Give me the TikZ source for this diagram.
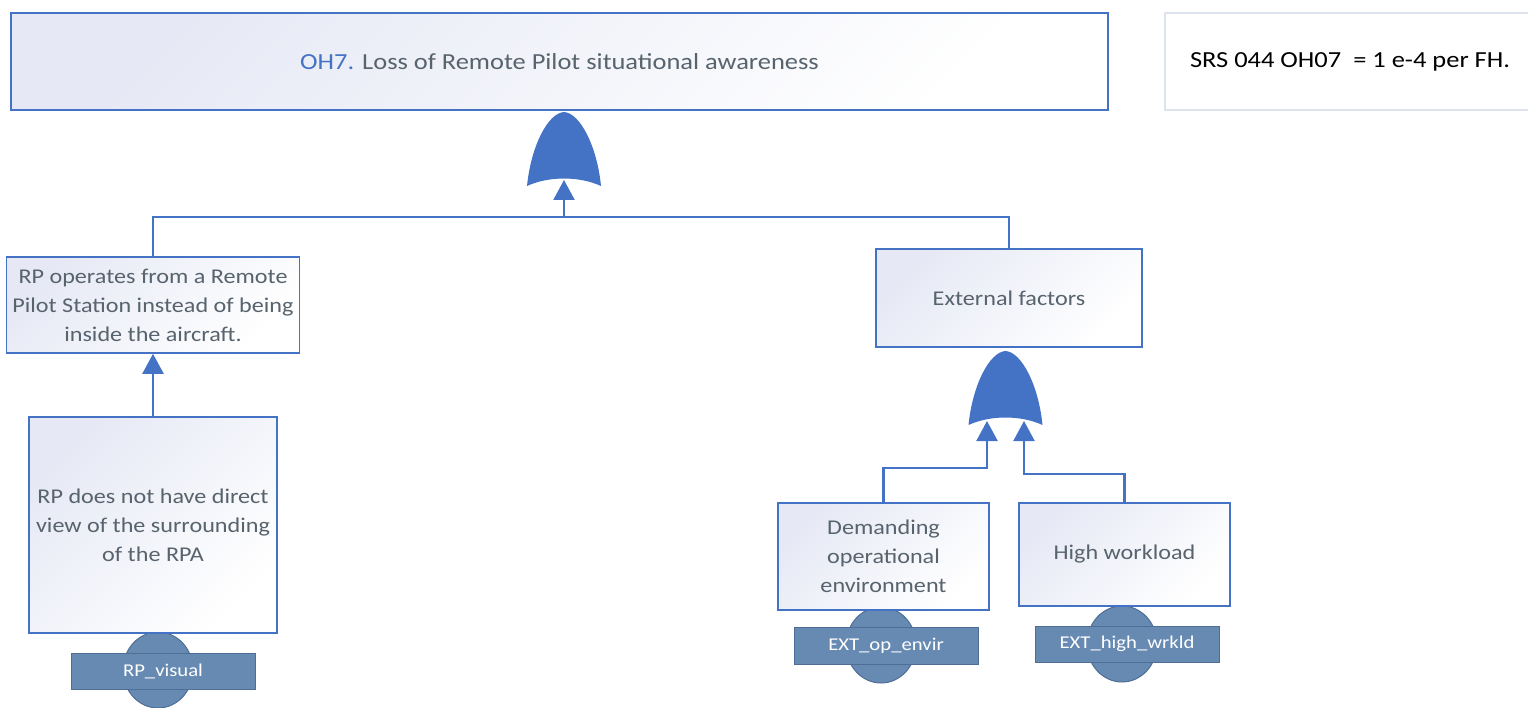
\documentclass[tikz,border=0pt]{standalone}
\usepackage{fontspec}
\setmainfont[FakeStretch=1.15]{Carlito}
\usetikzlibrary{arrows.meta,shapes.geometric}

\definecolor{ftblue}{RGB}{68,114,196}
\definecolor{fttext}{RGB}{87,99,109}
\definecolor{fttint}{RGB}{230,233,245}
\definecolor{evfill}{RGB}{103,138,178}
\definecolor{evline}{RGB}{78,110,150}
\definecolor{noteline}{RGB}{222,228,238}

\tikzset{
  event/.style={draw=ftblue, line width=1.6pt, top color=fttint, bottom color=white,
    shading angle=45, inner sep=0pt, align=center, text=fttext,
    font=\fontsize{21}{29}\selectfont},
  note/.style={draw=noteline, line width=1.2pt, fill=white, inner sep=0pt,
    text=black, font=\fontsize{23}{28}\selectfont},
  evcirc/.style={ellipse, draw=evline, line width=1pt, fill=evfill, inner sep=0pt,
    minimum width=70pt, minimum height=76pt},
  evlabel/.style={draw=evline, line width=1pt, fill=evfill, text=white, inner sep=0pt,
    font=\fontsize{18}{22}\selectfont},
  conn/.style={draw=ftblue, line width=2.2pt},
  arr/.style={-{Triangle[width=21pt,length=20pt]}},
  orgate/.pic={
    \fill[ftblue] (-37,0) .. controls (-33,-40) and (-16,-73) .. (0,-74)
      .. controls (16,-73) and (33,-40) .. (37,0)
      .. controls (15,-10) and (-15,-10) .. (-37,0) -- cycle;
  }
}

\begin{document}
\begin{tikzpicture}[x=1pt,y=-1pt]
\useasboundingbox (0,0) rectangle (1528,708);

% top event and target note
\node[event, minimum width=1097pt, minimum height=97pt, font=\fontsize{23}{28}\selectfont]
  (top) at (559.5,61.5) {\textcolor{ftblue}{OH7.} Loss of Remote Pilot situational awareness};
\node[note, minimum width=370pt, minimum height=97pt] (srs) at (1350,61.5)
  {SRS 044 OH07\ \ = 1 e-4 per FH.};

% basic event circles (behind the boxes and labels)
\node[evcirc] (c1) at (158,670) {};
\node[evcirc] (c2) at (881,645) {};
\node[evcirc] (c3) at (1122,644) {};

% intermediate and basic events
\node[event, minimum width=293pt, minimum height=96pt] (rpop) at (153,305)
  {RP operates from a Remote\\Pilot Station instead of being\\inside the aircraft.};
\node[event, minimum width=248pt, minimum height=216pt] (rpdir) at (153,525)
  {RP does not have direct\\view of the surrounding\\of the RPA};
\node[event, minimum width=266pt, minimum height=98pt] (ext) at (1009,298)
  {External factors};
\node[event, minimum width=211pt, minimum height=107pt] (dem) at (883.5,556.5)
  {Demanding\\operational\\environment};
\node[event, minimum width=211pt, minimum height=103pt] (hw) at (1124.5,554.5)
  {High workload};

% basic event labels
\node[evlabel, minimum width=184pt, minimum height=36pt] (l1) at (163,671) {RP\_visual};
\node[evlabel, minimum width=184pt, minimum height=37pt] (l2) at (886,645.5) {EXT\_op\_envir};
\node[evlabel, minimum width=184pt, minimum height=36pt] (l3) at (1127,644) {EXT\_high\_wrkld};

% OR gates
\pic at (564,186) {orgate};
\pic at (1005.5,425) {orgate};

% gate inputs and bends
\coordinate (g1in) at (564,180);
\coordinate (j1) at (564,217);
\coordinate (g2a) at (987,421);
\coordinate (g2b) at (1024,421);
\coordinate (k1) at (987,468);
\coordinate (k2) at (1024,474);

% connectors
\draw[conn] (rpop.north) |- (j1);
\draw[conn] (ext.north) |- (j1);
\draw[conn, arr] (j1) -- (g1in);
\draw[conn, arr] (rpdir.north) -- (rpop.south);
\draw[conn, arr] (dem.north) |- (k1) -- (g2a);
\draw[conn, arr] (hw.north) |- (k2) -- (g2b);
\end{tikzpicture}
\end{document}
